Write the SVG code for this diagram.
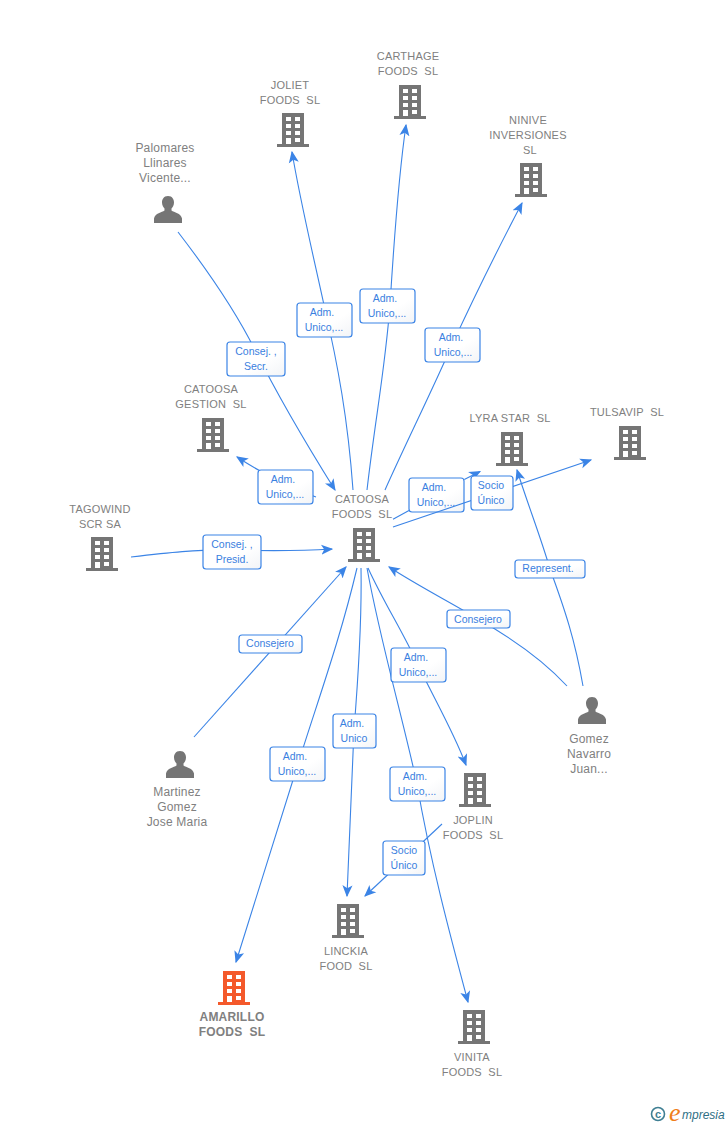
<svg xmlns="http://www.w3.org/2000/svg" xmlns:xlink="http://www.w3.org/1999/xlink" width="728" height="1125" viewBox="0 0 728 1125">
<style>
text{font-family:"Liberation Sans",Arial,sans-serif;white-space:pre}
.n{font-size:11px;letter-spacing:.2px;fill:#808080;text-anchor:middle}
.p{font-size:12px}
.b{font-weight:bold;font-size:12px}
.l{font-size:10.5px;fill:#3a80e0;text-anchor:middle}
.box{fill:url(#g);stroke:#3b84e6;stroke-width:1.2}
.c{fill:none;stroke:#3b84e6;stroke-width:1.1;marker-end:url(#a)}
</style>
<defs>
<linearGradient id="g" x1="0" y1="0" x2="1" y2="1"><stop offset="0" stop-color="#fff"/><stop offset=".6" stop-color="#fff"/><stop offset="1" stop-color="#f2f4f7"/></linearGradient>
<marker id="a" markerUnits="userSpaceOnUse" markerWidth="12" markerHeight="12" refX="9" refY="5" orient="auto" viewBox="0 0 10 10"><path d="M0,0.8 L10,5 L0,9.2 L2.5,5 Z" fill="#3b84e6"/></marker>
<g id="bld"><path fill-rule="evenodd" d="M-11,-17H11V14H16V17H-16V14H-11ZM-7,-13V-9H-2V-13ZM2,-13V-9H7V-13ZM-7,-6V-2H-2V-6ZM2,-6V-2H7V-6ZM-7,1V5H-2V1ZM2,1V5H7V1ZM-7,8V14H-2V8ZM2,8V12H7V8Z"/></g>
<path id="per" d="M0,-14C4.500,-14 6,-10.500 6,-7.500C6,-4.500 4.500,-2.500 3.500,-1.500V0.500C6,2.500 13,3 14,8.500V13H-14V8.500C-13,3 -6,2.500 -3.500,0.500V-1.500C-4.500,-2.500 -6,-4.500 -6,-7.500C-6,-10.500 -4.500,-14 0,-14Z"/>
</defs>
<g id="label-under"><rect class="box" x="409" y="478" width="55" height="34" rx="3"/><text class="l" x="434" y="491">Adm.</text><text class="l" x="436" y="506">Unico,...</text></g>
<g id="connectors">
<path class="c" d="M178,232C215,280 240,320 255,350C280,400 310,450 335,490"/>
<path class="c" d="M353,490C348,420 338,365 324,305C312,250 300,200 292,152"/>
<path class="c" d="M367,490C375,420 385,370 390,305C394,240 398,180 406,125"/>
<path class="c" d="M385,490C405,445 430,395 452,345C475,295 500,245 522,203"/>
<path class="c" d="M316,497C295,490 265,475 237,457"/>
<path class="c" d="M131,557C165,553 200,549 232,550C265,551 300,551 332,549"/>
<path class="c" d="M393,519.300L409,510.500M464.300,479.500L480,471.500"/>
<path class="c" d="M393,527L591,460"/>
<path class="c" d="M583,686C575,640 565,610 550,569C540,535 528,505 517,470"/>
<path class="c" d="M567,686C545,662 515,640 478,619C450,602 420,587 389,567"/>
<path class="c" d="M194,737L346,567"/>
<path class="c" d="M357,568C340,640 318,700 298,764L236,962"/>
<path class="c" d="M361,568C362,620 358,680 354,730L347,896"/>
<path class="c" d="M368,568C385,605 402,630 418,665C435,700 455,735 466,765"/>
<path class="c" d="M367,568C380,640 402,715 417,784C430,860 450,935 468,1002"/>
<path class="c" d="M442,824L365,896"/>
</g>
<g id="labels">
<g><rect class="box" x="227" y="342" width="58" height="34" rx="3"/><text class="l" x="256" y="355">Consej. ,</text><text class="l" x="256" y="370">Secr.</text></g>
<g><rect class="box" x="297" y="303" width="55" height="34" rx="3"/><text class="l" x="322" y="316">Adm.</text><text class="l" x="324" y="331">Unico,...</text></g>
<g><rect class="box" x="360" y="289" width="55" height="34" rx="3"/><text class="l" x="385" y="302">Adm.</text><text class="l" x="387" y="317">Unico,...</text></g>
<g><rect class="box" x="425" y="328" width="55" height="34" rx="3"/><text class="l" x="451" y="341">Adm.</text><text class="l" x="453" y="356">Unico,...</text></g>
<g><rect class="box" x="258" y="470" width="55" height="34" rx="3"/><text class="l" x="283" y="483">Adm.</text><text class="l" x="285" y="498">Unico,...</text></g>
<g><rect class="box" x="203" y="535" width="58" height="34" rx="3"/><text class="l" x="232" y="548">Consej. ,</text><text class="l" x="232" y="563">Presid.</text></g>
<g><rect class="box" x="471" y="476" width="42" height="34" rx="3"/><text class="l" x="491" y="489">Socio</text><text class="l" x="491" y="504">Único</text></g>
<g><rect class="box" x="515" y="560" width="70" height="18" rx="3"/><text class="l" x="548" y="572">Represent.</text></g>
<g><rect class="box" x="447" y="610" width="63" height="18" rx="3"/><text class="l" x="478" y="623">Consejero</text></g>
<g><rect class="box" x="239" y="635" width="63" height="18" rx="3"/><text class="l" x="270" y="647">Consejero</text></g>
<g><rect class="box" x="391" y="648" width="55" height="34" rx="3"/><text class="l" x="416" y="661">Adm.</text><text class="l" x="418" y="676">Unico,...</text></g>
<g><rect class="box" x="333" y="714" width="43" height="34" rx="3"/><text class="l" x="352" y="727">Adm.</text><text class="l" x="354" y="742">Unico</text></g>
<g><rect class="box" x="270" y="747" width="55" height="34" rx="3"/><text class="l" x="295" y="760">Adm.</text><text class="l" x="297" y="775">Unico,...</text></g>
<g><rect class="box" x="390" y="767" width="55" height="34" rx="3"/><text class="l" x="415" y="780">Adm.</text><text class="l" x="417" y="795">Unico,...</text></g>
<g><rect class="box" x="383" y="841" width="42" height="34" rx="3"/><text class="l" x="404" y="854">Socio</text><text class="l" x="404" y="869">Único</text></g>
</g>
<g id="catoosa" fill="#757575"><text class="n" x="362" y="503">CATOOSA</text><text class="n" x="362" y="518">FOODS  SL</text><use xlink:href="#bld" href="#bld" transform="translate(364,545)"/></g>
<g id="joliet" fill="#757575"><text class="n" x="290" y="89">JOLIET</text><text class="n" x="290" y="104">FOODS  SL</text><use href="#bld" transform="translate(293,130)"/></g>
<g id="carthage" fill="#757575"><text class="n" x="408" y="60">CARTHAGE</text><text class="n" x="408" y="75">FOODS  SL</text><use href="#bld" transform="translate(410,102)"/></g>
<g id="ninive" fill="#757575"><text class="n" x="528" y="124">NINIVE</text><text class="n" x="528" y="139">INVERSIONES</text><text class="n" x="530" y="154">SL</text><use href="#bld" transform="translate(531,180)"/></g>
<g id="palomares" fill="#757575"><text class="n p" x="165" y="152">Palomares</text><text class="n p" x="165" y="167">Llinares</text><text class="n p" x="165" y="182">Vicente...</text><use href="#per" transform="translate(168,210)"/></g>
<g id="gestion" fill="#757575"><text class="n" x="211" y="393">CATOOSA</text><text class="n" x="211" y="408">GESTION  SL</text><use href="#bld" transform="translate(213,435)"/></g>
<g id="lyra" fill="#757575"><text class="n" x="510" y="422">LYRA STAR  SL</text><use href="#bld" transform="translate(512,449)"/></g>
<g id="tulsavip" fill="#757575"><text class="n" x="627" y="416">TULSAVIP  SL</text><use href="#bld" transform="translate(630,443)"/></g>
<g id="tagowind" fill="#757575"><text class="n" x="100" y="513">TAGOWIND</text><text class="n" x="100" y="528">SCR SA</text><use href="#bld" transform="translate(102,554)"/></g>
<g id="gomez" fill="#757575"><use href="#per" transform="translate(592,711)"/><text class="n p" x="589" y="743">Gomez</text><text class="n p" x="589" y="758">Navarro</text><text class="n p" x="589" y="773">Juan...</text></g>
<g id="martinez" fill="#757575"><use href="#per" transform="translate(180,765)"/><text class="n p" x="177" y="796">Martinez</text><text class="n p" x="177" y="811">Gomez</text><text class="n p" x="177" y="826">Jose Maria</text></g>
<g id="joplin" fill="#757575"><use href="#bld" transform="translate(475,790)"/><text class="n" x="473" y="824">JOPLIN</text><text class="n" x="473" y="839">FOODS  SL</text></g>
<g id="linckia" fill="#757575"><use href="#bld" transform="translate(348,921)"/><text class="n" x="346" y="955">LINCKIA</text><text class="n" x="346" y="970">FOOD  SL</text></g>
<g id="amarillo" fill="#f4592b"><use href="#bld" transform="translate(234,988)"/><text class="n b" x="232" y="1021">AMARILLO</text><text class="n b" x="232" y="1036">FOODS  SL</text></g>
<g id="vinita" fill="#757575"><use href="#bld" transform="translate(474,1027)"/><text class="n" x="472" y="1061">VINITA</text><text class="n" x="472" y="1076">FOODS  SL</text></g>
<g id="logo"><circle cx="658" cy="1114" r="6.500" fill="none" stroke="#3f7f93" stroke-width="1.600"/><text x="658" y="1118" font-size="11" font-weight="bold" fill="#3f7f93" text-anchor="middle">c</text><text x="669" y="1121" font-size="26" font-style="italic" fill="#f07d1a" style="font-family:'Liberation Serif',serif">e</text><text x="682" y="1119" font-size="12" font-style="italic" fill="#2f6f85">mpresia</text></g>
</svg>
